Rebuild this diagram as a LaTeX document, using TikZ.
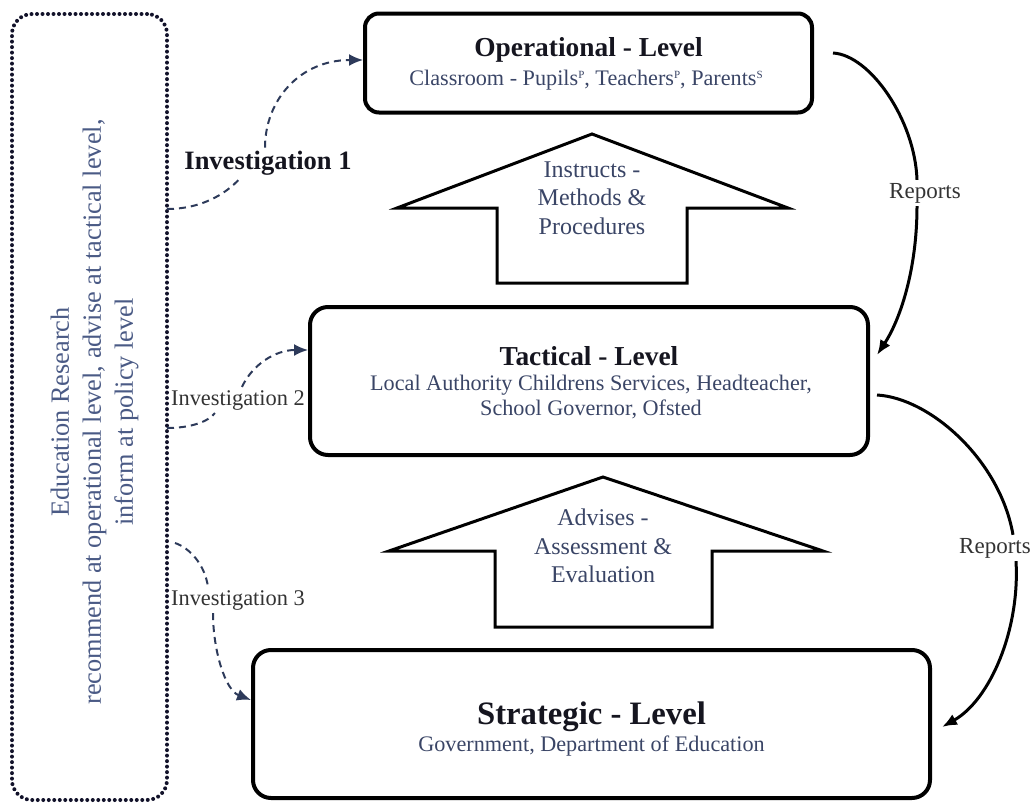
\documentclass[tikz,border=0pt]{standalone}
\usepackage{fontspec}
\setmainfont{Liberation Serif}
\usetikzlibrary{arrows.meta}
\definecolor{ttlcol}{HTML}{15151F}
\definecolor{subcol}{HTML}{3A4566}
\definecolor{educol}{HTML}{4A5A85}
\definecolor{invcol}{HTML}{2D3A5A}
\definecolor{repcol}{HTML}{333333}
\definecolor{dotcol}{HTML}{12122A}
\newcommand{\supmark}[1]{\raisebox{7pt}{\fontsize{11}{11}\selectfont #1}}
\tikzset{
  edubox/.style={draw=dotcol, line width=4pt, dash pattern=on 0pt off 5.5pt, line cap=round,
    rounded corners=20pt, minimum width=155pt, minimum height=786pt, inner sep=0pt},
  edutext/.style={font=\fontsize{26.3}{32}\selectfont, text=educol, align=center, inner sep=0pt},
  levelbox/.style={draw=black, line width=4pt, rounded corners=18pt, inner sep=0pt},
  lvltitle/.style={font=\fontsize{27.4}{32}\selectfont\bfseries, text=ttlcol, inner sep=0pt},
  lvlsub/.style={font=\fontsize{22.2}{25}\selectfont, text=subcol, align=center, inner sep=0pt},
  blockarrow/.style={draw=black, line width=3pt, fill=white, line join=miter},
  arrowtext/.style={font=\fontsize{24}{28.5}\selectfont, text=subcol, align=center, inner sep=0pt},
  invlink/.style={draw=invcol, line width=2pt, dash pattern=on 7pt off 5pt},
  invtip/.style={-{Latex[length=14pt,width=12pt]}},
  replink/.style={draw=black, line width=3pt},
  reptip/.style={-{Latex[length=15pt,width=12pt]}},
  invlabel/.style={font=\fontsize{22.4}{26}\selectfont, text=repcol, inner sep=3pt},
  replabel/.style={font=\fontsize{23}{26}\selectfont, text=repcol, inner sep=3pt},
}
\begin{document}
\begin{tikzpicture}[x=1pt,y=-1pt]
\useasboundingbox (0,0) rectangle (1034,803);

% research frame on the left
\node[edubox] (edu) at (89.5,407) {};
\node[edutext, rotate=90] (eduT) at (94.5,412)
  {Education Research\\recommend at operational level, advise at tactical level,\\inform at policy level};

% the three levels
\node[levelbox, rounded corners=14pt, minimum width=447pt, minimum height=99pt] (op) at (588.5,63) {};
\node[lvltitle] (opT) at (588.5,50) {Operational - Level};
\node[lvlsub] (opS) at (586,80)
  {Classroom - Pupils\supmark{P}, Teachers\supmark{P}, Parents\supmark{S}};

\node[levelbox, minimum width=558pt, minimum height=148pt] (tac) at (589,381) {};
\node[lvltitle] (tacT) at (589,356) {Tactical - Level};
\node[lvlsub] (tacS) at (591,397.5)
  {Local Authority Childrens Services, Headteacher,\\School Governor, Ofsted};

\node[levelbox, minimum width=677pt, minimum height=148pt] (str) at (591.5,724) {};
\node[lvltitle, font=\fontsize{32.7}{36}\selectfont\bfseries] (strT) at (591.5,717) {Strategic - Level};
\node[lvlsub] (strS) at (591.5,746) {Government, Department of Education};

% block arrows between levels
\draw[blockarrow] (592,134) -- (788,208) -- (687,208) -- (687,283) -- (497,283)
  -- (497,208) -- (397,208) -- cycle;
\node[arrowtext] (a1T) at (592,198) {Instructs -\\Methods \&\\Procedures};
\draw[blockarrow] (603,477) -- (823,551) -- (712,551) -- (712,627) -- (495,627)
  -- (495,551) -- (389,551) -- cycle;
\node[arrowtext] (a2T) at (603,546) {Advises -\\Assessment \&\\Evaluation};

% investigations
\node[invlabel, font=\fontsize{26.5}{30}\selectfont\bfseries, text=ttlcol] (inv1) at (268,163) {Investigation 1};
\node[invlabel] (inv2) at (238,400) {Investigation 2};
\node[invlabel] (inv3) at (238,600) {Investigation 3};
\coordinate (i1s) at (167,209);
\coordinate (i2s) at (167,428);
\coordinate (i3s) at (175,543);

\draw[invlink] (i1s) .. controls (200,209) and (225,195) .. ([xshift=-28pt]inv1.south);
\draw[invlink, invtip] ([xshift=-3pt]inv1.north) .. controls (265,100) and (300,60) .. ([yshift=3pt]op.west);

\draw[invlink] (i2s) .. controls (190,428) and (208,422) .. ([xshift=-23pt]inv2.south);
\draw[invlink, invtip] ([xshift=4pt]inv2.north) .. controls (252,365) and (275,350) .. ([yshift=31pt]tac.west);

\draw[invlink] (i3s) .. controls (190,548) and (205,565) .. ([xshift=-30pt]inv3.north);
\draw[invlink, invtip] ([xshift=-25pt]inv3.south) .. controls (213,650) and (225,690) .. ([yshift=24pt]str.west);

% reporting lines
\node[replabel] (rep1) at (925,193) {Reports};
\node[replabel] (rep2) at (995,548) {Reports};

\draw[replink] ([xshift=19pt,yshift=10pt]op.east) .. controls (870,55) and (915,120) .. ([xshift=-8pt]rep1.north);
\draw[replink, reptip] ([xshift=-8pt]rep1.south) .. controls (917,270) and (900,320) .. ([xshift=7pt,yshift=26pt]tac.east);

\draw[replink] ([xshift=7pt,yshift=-14pt]tac.east) .. controls (930,398) and (1000,460) .. ([xshift=18pt]rep2.north);
\draw[replink, reptip] ([xshift=21pt]rep2.south) .. controls (1020,630) and (990,700) .. ([xshift=10pt,yshift=-3pt]str.east);
\end{tikzpicture}
\end{document}
